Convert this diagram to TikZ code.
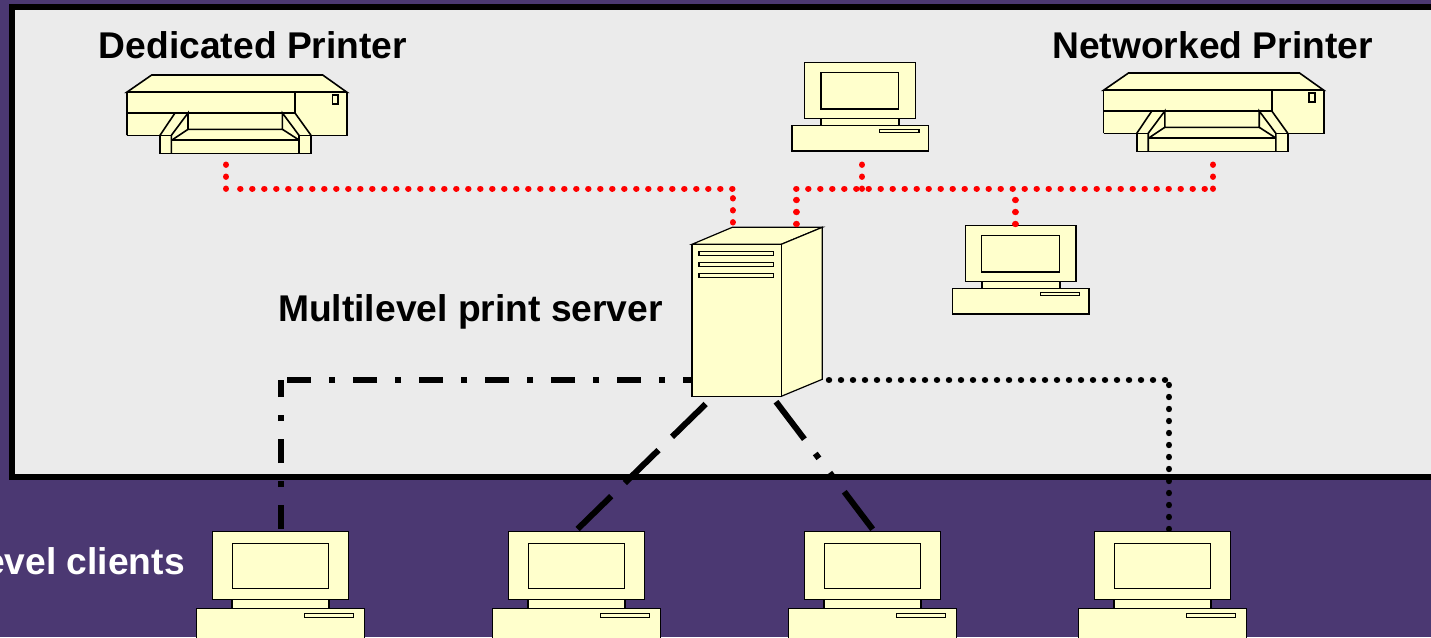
\documentclass[tikz,border=0pt]{standalone}
\usepackage{fontspec}
\setmainfont{Liberation Sans}
\definecolor{slidebg}{HTML}{4B3872}
\definecolor{panelbg}{HTML}{EBEBEB}
\definecolor{devfill}{HTML}{FFFFCC}
\tikzset{
  label/.style={font=\fontsize{37.2}{40}\selectfont\bfseries,inner sep=0pt},
  devline/.style={draw=black,fill=devfill,line width=1.2pt,line join=miter},
  prnline/.style={line width=1.6pt},
  wire/.style={line width=6pt,black},
  reddots/.style={line width=6.4pt,red,line cap=round,dash pattern=on 0.01pt off 11.99pt},
  blackdots/.style={reddots,black},
  dashdotline/.style={wire,dash pattern=on 24pt off 18pt on 6pt off 18pt},
  longdash/.style={wire,dash pattern=on 47pt off 19pt},
  dashdotdot/.style={wire,dash pattern=on 47pt off 18pt on 6pt off 18pt on 6pt off 18pt},
  pics/computer/.style={code={ % origin is top middle of the monitor
    \fill[devfill](-39,55.6) rectangle (39,62.6);
    \draw[line width=2pt](-39,55.6)--(-39,62.6) (39,55.6)--(39,62.6);
    \filldraw[devline](-55.3,0) rectangle (55.3,55.6);
    \filldraw[devline](-39,9.6) rectangle (38.7,46.3);
    \filldraw[devline](-68,62.6) rectangle (68.3,88.3);
    \filldraw[devline](19.7,66.6) rectangle (59,70);
  }},
  pics/printer/.style={code={ % origin is top left of the body
    \filldraw[devline,prnline](0,0)--(25,-17.3)--(196,-17.3)--(220.3,0)--cycle;
    \fill[devfill](0,0) rectangle (220.3,43);
    \filldraw[devline,prnline](33.3,43)--(33.3,61.3)--(184.3,61.3)--(184.3,43);
    \draw[prnline](0,43)--(0,0)--(220.3,0)--(220.3,43)--(172.3,43) (0,43)--(44.7,43);
    \draw[prnline](0,20.7)--(168.3,20.7)--(168.3,0);
    \draw[prnline](33.3,43)--(48.3,20.7) (168.3,20.7)--(184.3,43);
    \draw[prnline](44.7,61.3)--(44.7,43)--(61.3,20.7)--(61.3,37)--(155.7,37)--(155.7,20.7)--(172.3,43)--(172.3,61.3);
    \draw[prnline](45.3,47.7)--(61.3,37) (172.3,47.7)--(155.7,37) (45.3,47.7)--(172.3,47.7);
    \draw[line width=2pt](0,0)--(220.3,0);
    \filldraw[devline,prnline](205.7,2.7) rectangle (211.3,11.7);
  }},
  pics/server/.style={code={ % origin is top left of the front
    \filldraw[devline](0,0)--(40.3,-17)--(130.3,-17)--(89.3,0)--cycle;
    \filldraw[devline](89.3,0)--(130.3,-17)--(130.3,135)--(89.3,152)--cycle;
    \filldraw[devline](0,0) rectangle (89.3,152);
    \foreach \slotY in {7,18,29.4}
      \filldraw[devline](7,\slotY) rectangle (81.3,\slotY+4);
  }}
}
\begin{document}
\begin{tikzpicture}[x=1pt,y=-1pt]
  \useasboundingbox (0,0) rectangle (1431,637);
  \clip (0,0) rectangle (1431,637);
  \fill[slidebg] (0,0) rectangle (1431,637);
  \filldraw[fill=panelbg,line width=6pt,line join=miter] (1440,7)--(12.3,7)--(12.3,477)--(1440,477); % panel

  % free ends of the connectors
  \coordinate (srvW) at (707,380);
  \coordinate (cornerW) at (287,380);
  \coordinate (cornerS) at (281,380);
  \coordinate (pcAtop) at (281,529);
  \coordinate (srvSW) at (705.7,404);
  \coordinate (pcBtop) at (577.3,529.3);
  \coordinate (srvSE) at (776,401.7);
  \coordinate (pcCtop) at (872.7,529.3);
  \coordinate (srvE) at (829,380);
  \coordinate (cornerE) at (1165.1,380);
  \coordinate (cornerD) at (1169,385);
  \coordinate (pcDtop) at (1169,529.1);

  \draw[dashdotline] (srvW)--(cornerW);
  \draw[dashdotline] (pcAtop)--(cornerS);
  \draw[longdash] (srvSW)--(pcBtop);
  \draw[dashdotdot] (srvSE)--(pcCtop);
  \draw[blackdots] (srvE)--(cornerE);
  \draw[blackdots] (cornerD)--(pcDtop);

  \pic (prnA) at (126.7,92.3) {printer};
  \pic (prnB) at (1103.5,90.3) {printer};
  \pic (srv) at (692,244.3) {server};
  \pic (pcE) at (860,62.7) {computer};
  \pic (pcF) at (1020.7,225.7) {computer};
  \pic[scale=1.233] (pcA) at (280.5,531.3) {computer};
  \pic[scale=1.233] (pcB) at (576.5,531.3) {computer};
  \pic[scale=1.233] (pcC) at (872.5,531.3) {computer};
  \pic[scale=1.233] (pcD) at (1162.5,531.3) {computer};

  % red bus
  \coordinate (prnAport) at (226,164.7);
  \coordinate (busA) at (226,188.8);
  \coordinate (busB) at (240.3,188.7);
  \coordinate (busC) at (732.8,188.7);
  \coordinate (srvL) at (732.7,198.3);
  \coordinate (srvLtop) at (732.7,222.4);
  \coordinate (srvR) at (796.3,224);
  \coordinate (busD) at (796.3,199.9);
  \coordinate (busE) at (796.3,188.7);
  \coordinate (busF) at (856.4,188.7);
  \coordinate (pcEport) at (862,164.7);
  \coordinate (busG) at (862,188.8);
  \coordinate (busH) at (868.7,188.7);
  \coordinate (busI) at (1204.8,188.7);
  \coordinate (prnBport) at (1213,164.7);
  \coordinate (busJ) at (1213,188.8);
  \coordinate (busK) at (1015.3,200);
  \coordinate (pcFtop) at (1015.3,224.1);
  \draw[reddots] (prnAport)--(busA);
  \draw[reddots] (busB)--(busC);
  \draw[reddots] (srvL)--(srvLtop);
  \draw[reddots] (srvR)--(busD);
  \draw[reddots] (busE)--(busF);
  \draw[reddots] (pcEport)--(busG);
  \draw[reddots] (busH)--(busI);
  \draw[reddots] (prnBport)--(busJ);
  \draw[reddots] (busK)--(pcFtop);

  \node[label,anchor=base] (dedicated) at (253,58) {Dedicated Printer};
  \node[label,anchor=base] (networked) at (1212.5,58) {Networked Printer};
  \node[label,anchor=base west] (printsrv) at (278,321) {Multilevel print server};
  \node[label,anchor=base east,white] (clients) at (185,574) {Multilevel clients};
\end{tikzpicture}
\end{document}
